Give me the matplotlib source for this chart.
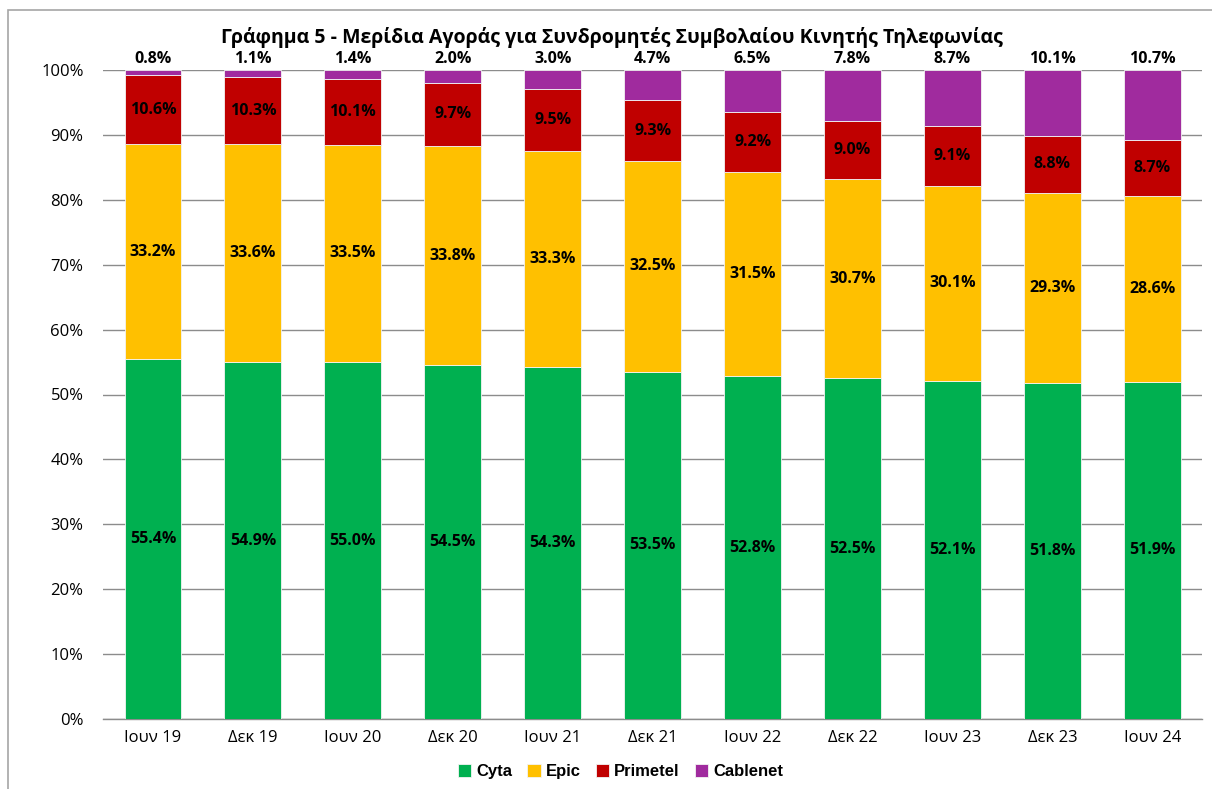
import matplotlib
matplotlib.use("Agg")
import matplotlib.pyplot as plt
from matplotlib.patches import Rectangle
import numpy as np

categories = ["Ιουν 19", "Δεκ 19", "Ιουν 20", "Δεκ 20", "Ιουν 21", "Δεκ 21",
              "Ιουν 22", "Δεκ 22", "Ιουν 23", "Δεκ 23", "Ιουν 24"]
cyta = [55.4, 54.9, 55.0, 54.5, 54.3, 53.5, 52.8, 52.5, 52.1, 51.8, 51.9]
epic = [33.2, 33.6, 33.5, 33.8, 33.3, 32.5, 31.5, 30.7, 30.1, 29.3, 28.6]
primetel = [10.6, 10.3, 10.1, 9.7, 9.5, 9.3, 9.2, 9.0, 9.1, 8.8, 8.7]
cablenet = [0.8, 1.1, 1.4, 2.0, 3.0, 4.7, 6.5, 7.8, 8.7, 10.1, 10.7]
series_names = ["Cyta", "Epic", "Primetel", "Cablenet"]
colors = ["#00B050", "#FFC000", "#C00000", "#A02B9E"]
title = "Γράφημα 5 - Μερίδια Αγοράς για Συνδρομητές Συμβολαίου Κινητής Τηλεφωνίας"

plt.rcParams['font.family'] = ['Open Sans', 'DejaVu Sans']

fig = plt.figure(figsize=(12.12, 7.89), dpi=100)
ax = fig.add_axes([0.085, 0.0887, 0.907, 0.8226])

data = np.array([cyta, epic, primetel, cablenet], dtype=float)
totals = data.sum(axis=0)
shares = data / totals * 100
x = np.arange(len(categories))
bottom = np.zeros(len(categories))
for i, (name, col) in enumerate(zip(series_names, colors)):
    ax.bar(x, shares[i], 0.57, bottom=bottom, color=col, label=name,
           edgecolor="#f3f3f3", linewidth=0.6, zorder=3)
    for j in range(len(categories)):
        if i < 3:
            ax.text(x[j], bottom[j] + shares[i][j] / 2, f"{data[i][j]:.1f}%",
                    ha="center", va="center", fontsize=11.5, fontweight="bold",
                    color="black", zorder=4)
        else:
            ax.text(x[j], 100.5, f"{data[i][j]:.1f}%", ha="center", va="bottom",
                    fontsize=11.5, fontweight="bold", color="black", zorder=4)
    bottom += shares[i]

ax.set_xlim(-0.5, len(categories) - 0.5)
ax.set_ylim(0, 100)
ax.set_yticks(np.arange(0, 101, 10))
ax.set_yticklabels([f"{v}%" for v in range(0, 101, 10)], fontsize=12)
ax.set_xticks(x)
ax.set_xticklabels(categories, fontsize=12)
ax.tick_params(axis="x", length=0, pad=8)
ax.tick_params(axis="y", length=0, pad=14)
ax.yaxis.grid(True, color="#8c8c8c", linewidth=1.0, zorder=0)
ax.set_axisbelow(True)
for s in ["top", "right", "left"]:
    ax.spines[s].set_visible(False)
ax.spines["bottom"].set_color("#8c8c8c")
ax.spines["bottom"].set_linewidth(1.0)

fig.text(0.505, 0.952, title, ha="center", va="center", fontsize=14,
         fontweight="bold")

fig.legend(loc="center", bbox_to_anchor=(0.512, 0.022), ncol=4, frameon=False,
           prop={"family": "Liberation Sans", "weight": "bold", "size": 12},
           handlelength=0.8, handleheight=0.8, handletextpad=0.3,
           columnspacing=0.9)

fig.patches.append(Rectangle((8 / 1212, -0.05), 1.2, 1 - 10 / 789 + 0.05,
                             transform=fig.transFigure, fill=False,
                             edgecolor="#a6a6a6", linewidth=1.2))

fig.savefig("out.png", dpi=100)
